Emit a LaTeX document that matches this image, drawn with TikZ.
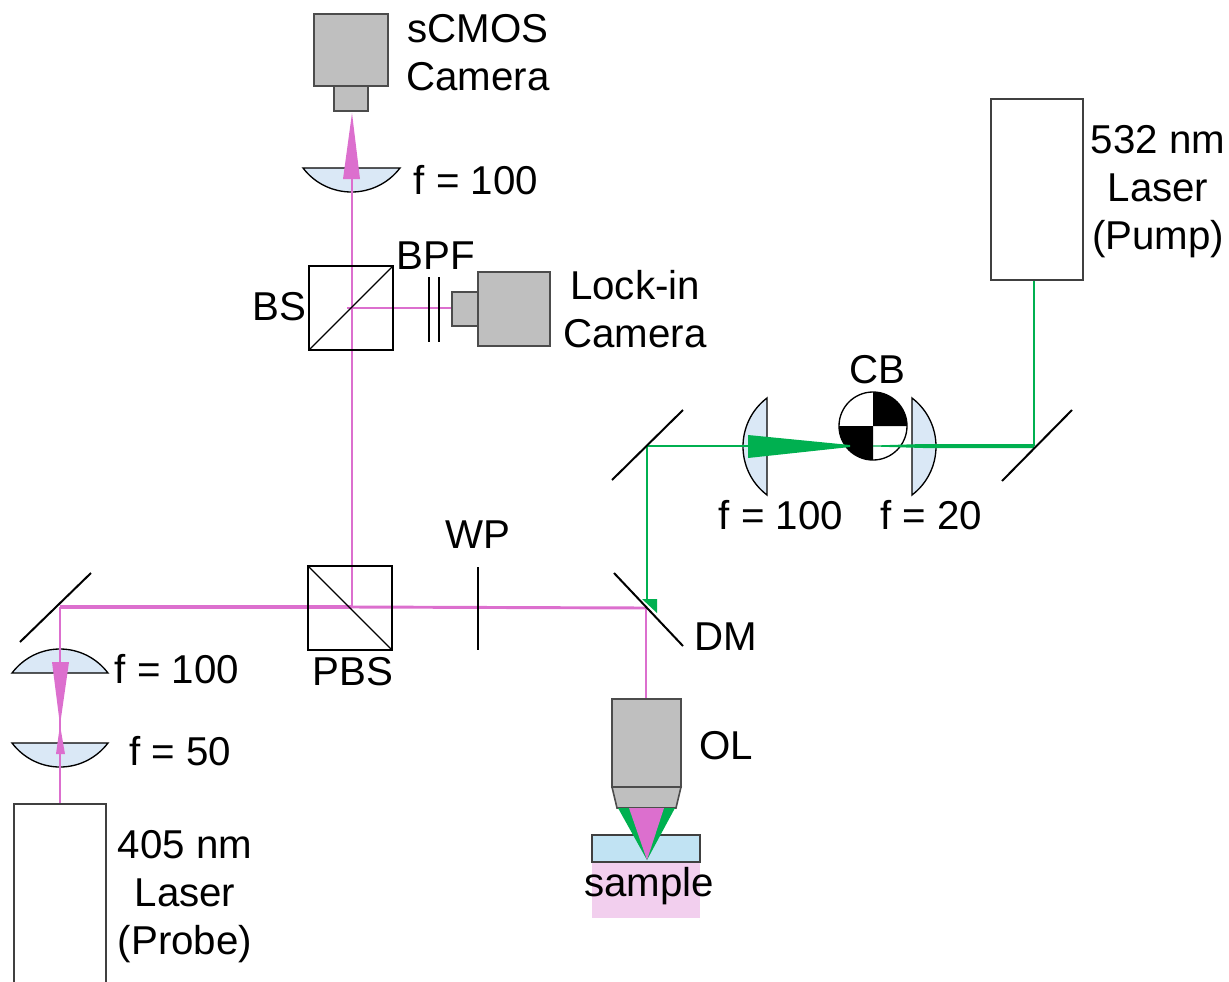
\documentclass[tikz,border=0pt]{standalone}
\usepackage{fontspec}
\setmainfont{Liberation Sans}
\definecolor{cgray}{HTML}{BFBFBF}
\definecolor{lensblue}{HTML}{DAE8F6}
\definecolor{probe}{HTML}{DC6FCE}
\definecolor{pump}{HTML}{00B050}
\definecolor{slideblue}{HTML}{C1E3F3}
\definecolor{samplepink}{HTML}{F2CFEE}
\tikzset{
  px/.style={x=0.75pt,y=-0.75pt},
  lbl/.style={font=\fontsize{30.2}{36}\selectfont,inner sep=0pt,align=center,text=black},
  box/.style={draw=black!75,line width=1pt,fill=white,outer sep=0pt},
  cam/.style={draw=black!70,line width=1.2pt,fill=cgray,outer sep=0pt},
  lens/.style={draw=black,line width=1pt,fill=lensblue},
  mirror/.style={draw=black,line width=1.5pt},
  probebeam/.style={draw=probe,line width=2.2pt},
  pumpbeam/.style={draw=pump,line width=1.8pt},
  cube/.style={draw=black,line width=0.9pt,outer sep=0pt}
}
\begin{document}
\begin{tikzpicture}[px]
\useasboundingbox (0,0) rectangle (1229,982);
% named beam points
\coordinate (pA) at (60,607);
\coordinate (pB) at (352,607);
\coordinate (pC) at (646,608);
\coordinate (pD) at (60,803);
\coordinate (pE) at (646,699);
\coordinate (pF) at (352,179);
\coordinate (pG) at (347,308);
\coordinate (pH) at (452,308);
\coordinate (gA) at (1034,280);
\coordinate (gB) at (1034,446);
\coordinate (gC) at (647,446);
\coordinate (gD) at (647,600);
% sample
\fill[samplepink] (592,862) rectangle (700,918);
\draw[draw=black!75,line width=1.2pt,fill=slideblue] (592,835) rectangle (700,862);
% lenses
\draw[lens] (303,168) .. controls (327.5,200) and (375.5,200) .. (400,168) -- cycle;
\draw[lens] (12,673) .. controls (36.5,641) and (83.5,641) .. (108,673) -- cycle;
\draw[lens] (12,743) .. controls (36.5,775) and (83.5,775) .. (108,743) -- cycle;
\draw[lens] (767,398) .. controls (735,422.5) and (735,470.5) .. (767,495) -- cycle;
\draw[lens] (912,398) .. controls (944,422.5) and (944,470.5) .. (912,495) -- cycle;
% chopper
\draw[line width=1pt,fill=white] (873,426) circle (34);
\fill[black] (873,426) -- (907,426) arc[start angle=0,end angle=-90,radius=34] -- cycle;
\fill[black] (873,426) -- (839,426) arc[start angle=180,end angle=90,radius=34] -- cycle;
% probe beams
\draw[draw=probe,line width=2.8pt] (pA) -- (pB);
\draw[probebeam] (pB) -- (pC);
\draw[probebeam] (pA) -- (pD);
\draw[probebeam] (pC) -- (pE);
\draw[probebeam] (pB) -- (pF);
\draw[draw=probe,line width=1.8pt] (pG) -- (pH);
\fill[probe] (343,179) -- (360,179) -- (352,113) -- cycle;
\fill[probe] (52,662) -- (69,662) -- (60,725) -- (65,754) -- (56,754) -- (60,725) -- cycle;
% pump beams
\draw[pumpbeam] (gA) -- (gB);
\draw[pumpbeam] (gC) -- (748,446);
\draw[pumpbeam] (gC) -- (gD);
\fill[pump] (748,435) -- (850,445) -- (850,447) -- (748,458) -- cycle;
\fill[pump] (873,445.5) -- (923,444) -- (1034,444) -- (1034,448) -- (923,448) -- (873,446.5) -- cycle;
\fill[pump] (642,599) -- (657,599) -- (657,613) -- cycle;
% objective
\node[cam,inner sep=0pt,anchor=north west,minimum width=51.75pt,minimum height=66pt] (ol) at (612,699) {};
\draw[cam] (ol.south west) -- (ol.south east) -- (676,808) -- (617,808) -- cycle;
\fill[pump] (618,808) -- (675,808) -- (647,860) -- cycle;
\fill[probe] (629,808) -- (664,808) -- (647,860) -- cycle;
% optics cubes
\node[cube,inner sep=0pt,minimum size=63pt,anchor=north west] (bs) at (309,266) {};
\draw[line width=0.9pt] (bs.south west) -- (bs.north east);
\node[cube,inner sep=0pt,minimum size=63pt,anchor=north west] (pbs) at (308,566) {};
\draw[line width=0.9pt] (pbs.north west) -- (pbs.south east);
% mirrors and plates
\draw[mirror] (20,642) -- (91,573);
\draw[mirror] (614,573) -- (683,646);
\draw[mirror] (612,480) -- (683,410);
\draw[mirror] (1002,481) -- (1072,410);
\draw[line width=1.2pt] (478,567) -- (478,650);
\draw[line width=1.2pt] (429,277) -- (429,342);
\draw[line width=1.2pt] (439,277) -- (439,342);
% cameras
\node[cam,inner sep=0pt,anchor=north west,minimum width=55.5pt,minimum height=54pt] (scmos) at (314,14) {};
\node[cam,inner sep=0pt,anchor=north west,minimum width=25.5pt,minimum height=18.75pt] (scmosb) at (334,86) {};
\node[cam,inner sep=0pt,anchor=north west,minimum width=19.5pt,minimum height=25.5pt] (lockb) at (452,292) {};
\node[cam,inner sep=0pt,anchor=north west,minimum width=54pt,minimum height=55.5pt] (lock) at (478,272) {};
% lasers
\node[box,inner sep=0pt,anchor=north west,minimum width=69pt,minimum height=135.75pt] (l532) at (991,99) {};
\draw[draw=black!75,line width=1pt,fill=white] (14,982) -- (14,804) -- (106,804) -- (106,982);
% labels
\node[lbl] (t1) at (478,52.5) {sCMOS\\Camera};
\node[lbl] (t2) at (476,180) {f = 100};
\node[lbl] (t3) at (435.5,255.5) {BPF};
\node[lbl] (t4) at (279,306.5) {BS};
\node[lbl] (t5) at (635,309.5) {Lock-in\\Camera};
\node[lbl] (t6) at (1158,192) {532 nm\\Laser\\(Pump)};
\node[lbl] (t7) at (877,369.5) {CB};
\node[lbl] (t8) at (781,515) {f = 100};
\node[lbl] (t9) at (931,515) {f = 20};
\node[lbl] (t10) at (478,535) {WP};
\node[lbl] (t11) at (726,637) {DM};
\node[lbl] (t12) at (353,672) {PBS};
\node[lbl] (t13) at (177,669) {f = 100};
\node[lbl] (t14) at (180,751) {f = 50};
\node[lbl] (t15) at (726,746) {OL};
\node[lbl] (t16) at (649,886.5) {sample};
\node[lbl] (t17) at (185,896.5) {405 nm\\Laser\\(Probe)};
\end{tikzpicture}
\end{document}
